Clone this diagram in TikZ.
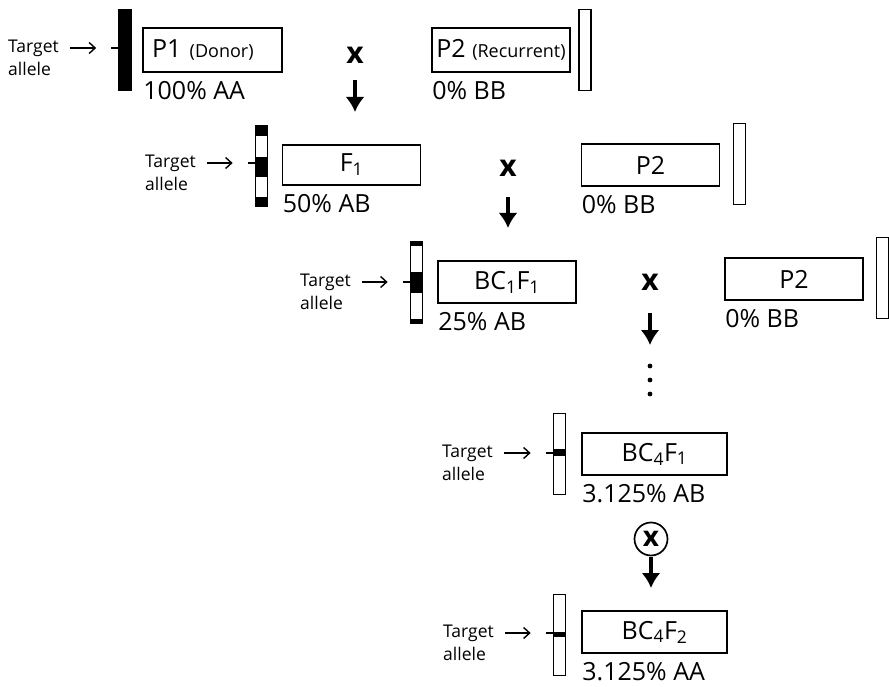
\documentclass[tikz,border=0pt]{standalone}
\usepackage{fontspec}
\setmainfont{Open Sans}
\usetikzlibrary{arrows.meta,positioning}

\begin{document}
\begin{tikzpicture}[x=1pt, y=-1pt,
  gbox/.style={draw, line width=1.7pt, inner sep=0pt, minimum width=138pt,
               minimum height=42pt, font=\fontsize{25}{28}\selectfont},
  pct/.style={anchor=base west, inner sep=0pt, font=\fontsize{25}{28}\selectfont},
  tgt/.style={anchor=west, align=left, inner sep=0pt, font=\fontsize{17.5}{23}\selectfont},
  chrom/.style={draw, line width=1.7pt, inner sep=0pt, minimum width=12pt,
                minimum height=81pt},
  cross/.style={inner sep=0pt, font=\fontsize{30}{32}\selectfont\bfseries},
  down/.style={-{Latex[length=15pt,width=19pt]}, line width=3.5pt},
  pointer/.style={-{Straight Barb[length=6pt,width=11pt]}, line width=1.4pt},
  tickline/.style={line width=1.4pt}]
\useasboundingbox (0,0) rectangle (889,687);

% generations
\node[gbox, minimum width=139pt, minimum height=44pt, text width=121pt, align=left] (p1) at (212.5,50)
  {P1 {\fontsize{18}{20}\selectfont(Donor)}};
\node[gbox, minimum height=44pt] (p2a) at (501,50) {P2 {\fontsize{18}{20}\selectfont(Recurrent)}};
\node[gbox, minimum height=40pt] (f1) at (351.5,165) {F\textsubscript{1}};
\node[gbox] (p2b) at (650.5,165) {P2};
\node[gbox] (bc1) at (507,282) {BC\textsubscript{1}F\textsubscript{1}};
\node[gbox] (p2c) at (794,279) {P2};
\node[gbox, minimum width=145pt] (bc4a) at (654.5,454) {BC\textsubscript{4}F\textsubscript{1}};
\node[gbox, minimum width=145pt] (bc4b) at (654.5,632) {BC\textsubscript{4}F\textsubscript{2}};

\foreach \b/\t in {p1/100\% AA, p2a/0\% BB, f1/50\% AB, p2b/0\% BB, bc1/25\% AB,
                   p2c/0\% BB, bc4a/3.125\% AB, bc4b/3.125\% AA}
  \node[pct] (\b-pct) at ([xshift=1pt,yshift=-27pt]\b.south west) {\t};

% chromosomes
\node[chrom, fill=black, minimum height=80pt] (c1) at (125,50) {};
\node[chrom] (c2) at (585,50) {};
\node[chrom] (c3) at (261.5,166) {};
\node[chrom] (c4) at (739.5,164) {};
\node[chrom] (c5) at (416.5,282.5) {};
\node[chrom] (c6) at (882.5,278) {};
\node[chrom] (c7) at (559.5,454) {};
\node[chrom] (c8) at (559.5,635) {};
\foreach \c/\a/\z in {c3/125/136, c3/157/177, c3/197/207, c5/242/246, c5/272/293,
                      c5/319/323, c7/449/456, c8/632/637}
  \fill (\c.west |- 0,\a) rectangle (\c.east |- 0,\z);

% target allele pointers
\foreach \n/\lx/\ty in {1/8/48, 3/145/163, 5/300/282, 7/442/453, 8/443/633} {
  \node[tgt] (tgt\n) at (\lx,\ty+10) {Target\\allele};
  \path (c\n.west |- 0,\ty) ++(-7,0) coordinate (tk\n);
  \draw[tickline] (tk\n) -- (c\n.west |- tk\n);
  \draw[pointer] ([xshift=11pt]tgt\n.east |- tk\n) -- ([xshift=-15pt]tk\n);
}

% crosses
\node[cross] (x1) at (355,55) {x};
\node[cross] (x2) at (508,168) {x};
\node[cross] (x3) at (650,282) {x};
\node[circle, draw, line width=1.7pt, minimum size=33pt, inner sep=0pt,
      font=\fontsize{28}{30}\selectfont\bfseries] (self) at (651,539) {x};
\foreach \m/\s/\e in {x1/80/112, x2/197/228, x3/313/345, self/557/588} {
  \path (\m |- 0,\e) coordinate (\m-tip);
  \draw[down] (\m |- 0,\s) -- (\m-tip);
}
\foreach \y in {366,380,394}
  \fill (x3 |- 0,\y) circle (2.4pt);
\end{tikzpicture}
\end{document}
